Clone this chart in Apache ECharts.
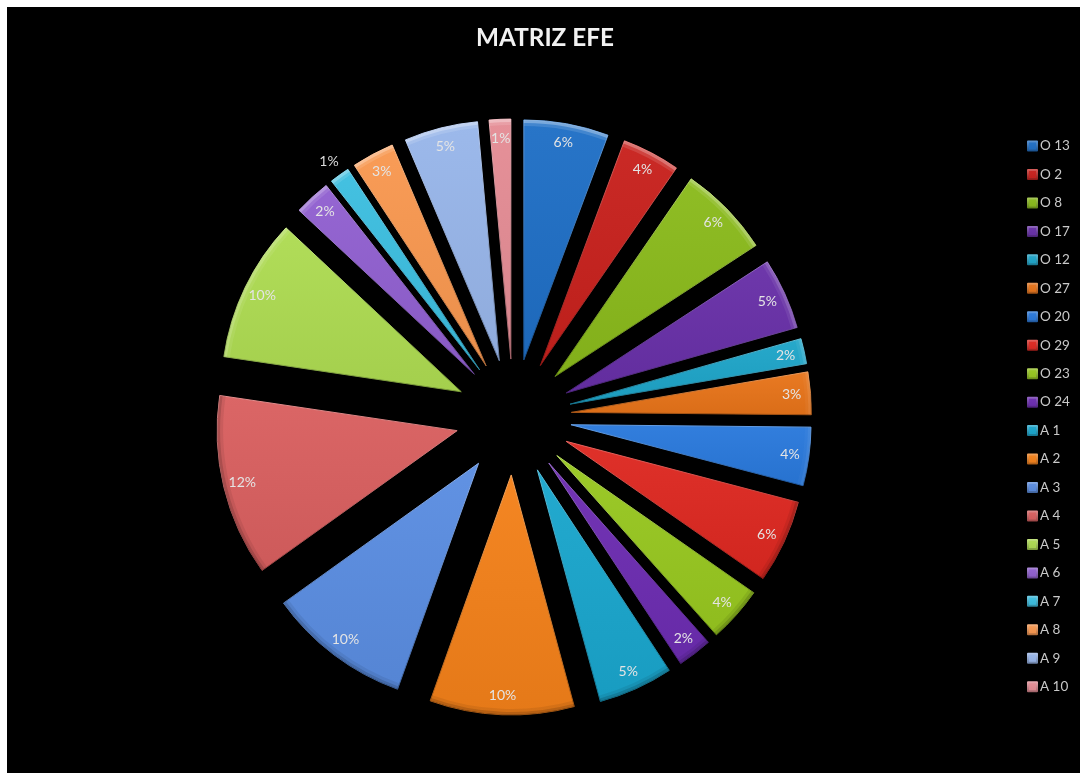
<!DOCTYPE html>
<html>
<head>
<meta charset="utf-8">
<title>MATRIZ EFE</title>
<script src="https://cdn.jsdelivr.net/npm/echarts@6/dist/echarts.min.js"></script>
<style>
  html, body { margin: 0; padding: 0; background: #fff; overflow: hidden; }
  #chart { position: absolute; left: 7px; top: 7px; width: 1073px; height: 766px; background: #000; }
</style>
</head>
<body>
<div id="chart"></div>
<script>
// EFE matrix: share of each opportunity (O) and threat (A) factor, in percent
const factors = ['O 13','O 2','O 8','O 17','O 12','O 27','O 20','O 29','O 23','O 24',
                 'A 1','A 2','A 3','A 4','A 5','A 6','A 7','A 8','A 9','A 10'];
const shares  = [5.7, 3.9, 6.2, 4.8, 1.7, 2.86, 3.93, 5.6, 3.74, 2.31,
                 5.03, 9.71, 9.62, 12.24, 9.63, 2.44, 1.34, 2.85, 4.95, 1.45];
const palette = ['#1f6fc6','#c8211d','#8aba1c','#6830a8','#1ea5c9','#e8741a',
                 '#2979dc','#de2821','#98c820','#6d2db2','#1aa6cd','#f4811a',
                 '#5a8de2','#da6060','#aedc52','#9160d0','#3cbee0','#f99850','#98b6ea','#e58c95'];

const PIE_CENTER = [506.5, 410];
const PIE_RADIUS = 240;
const EXPLODE = 58;

function shade(hex, amount) {
  const n = parseInt(hex.slice(1), 16);
  const mix = c => Math.round(amount >= 0 ? c + (255 - c) * amount : c * (1 + amount));
  const [r, g, b] = [n >> 16, (n >> 8) & 255, n & 255].map(mix);
  return `rgb(${r},${g},${b})`;
}
function vertical(top, bottom) {
  return { type: 'linear', x: 0, y: 0, x2: 0, y2: 1,
           colorStops: [{ offset: 0, color: top }, { offset: 1, color: bottom }] };
}

// Slice mid-angle from 12 o'clock, used to light the rims from above
let running = 0;
const midAngles = shares.map(v => { const m = running + v / 2; running += v; return m * 3.6 * Math.PI / 180; });

const mainData = factors.map((name, i) => ({
  name, value: shares[i], selected: true,
  itemStyle: {
    color: vertical(shade(palette[i], 0.04), shade(palette[i], -0.06)),
    borderWidth: 1,
    borderColor: vertical(shade(palette[i], 0.28), shade(palette[i], -0.3))
  }
}));

function rimData(strength) {
  return factors.map((name, i) => {
    const c = Math.cos(midAngles[i]);
    const tone = c > -0.2 ? `rgba(255,255,255,${(0.08 + 0.3 * Math.max(c, 0)) * strength})`
                          : `rgba(0,0,0,${0.2 * strength})`;
    return { name, value: shares[i], selected: true, itemStyle: { color: tone } };
  });
}

const labelData = factors.map((name, i) => {
  const item = { name, value: shares[i], selected: true, itemStyle: { color: 'transparent' } };
  if (name === 'A 7') {
    // The thinnest slice carries its label just beyond the rim
    item.label = { position: 'outside', color: '#d9d9d9', fontSize: 14, alignTo: 'none', padding: [0, -18, 0, 0] };
    item.labelLine = { show: false, length: 24, length2: 4 };
  }
  return item;
});

const pieBase = {
  type: 'pie',
  center: PIE_CENTER,
  startAngle: 90,
  clockwise: true,
  silent: true,
  animation: false,
  selectedMode: 'multiple',
  selectedOffset: EXPLODE,
  avoidLabelOverlap: false,
  emphasis: { disabled: true },
  labelLine: { show: false }
};

const chart = echarts.init(document.getElementById('chart'), null, { renderer: 'canvas' });
chart.setOption({
  backgroundColor: '#000',
  animation: false,
  title: {
    text: 'MATRIZ EFE',
    left: 533, top: 14, textAlign: 'center',
    textStyle: { color: '#f2f2f2', fontFamily: 'Lato', fontSize: 24.3, fontWeight: 'bold' }
  },
  legend: {
    data: factors,
    orient: 'vertical',
    left: 1015, top: 126,
    itemWidth: 9, itemHeight: 9,
    itemGap: 12.46,
    selectedMode: false,
    icon: 'rect',
    textStyle: { color: '#c9c9c9', fontFamily: 'Lato', fontSize: 13.5, lineHeight: 16, padding: [0, 0, 0, -2] }
  },
  series: [
    Object.assign({}, pieBase, {
      name: 'MATRIZ EFE', radius: [0, PIE_RADIUS], z: 2, data: mainData, label: { show: false }
    }),
    Object.assign({}, pieBase, {
      radius: [PIE_RADIUS - 3, PIE_RADIUS], z: 3, data: rimData(1), label: { show: false }
    }),
    Object.assign({}, pieBase, {
      radius: [PIE_RADIUS - 6, PIE_RADIUS - 3], z: 3, data: rimData(0.35), label: { show: false }
    }),
    Object.assign({}, pieBase, {
      radius: [PIE_RADIUS - 37, PIE_RADIUS - 7], z: 4, data: labelData,
      label: {
        show: true, position: 'inside', color: '#e4e4e4',
        fontFamily: 'Lato', fontSize: 14,
        formatter: p => Math.round(p.value) + '%'
      }
    })
  ]
});
</script>
</body>
</html>
